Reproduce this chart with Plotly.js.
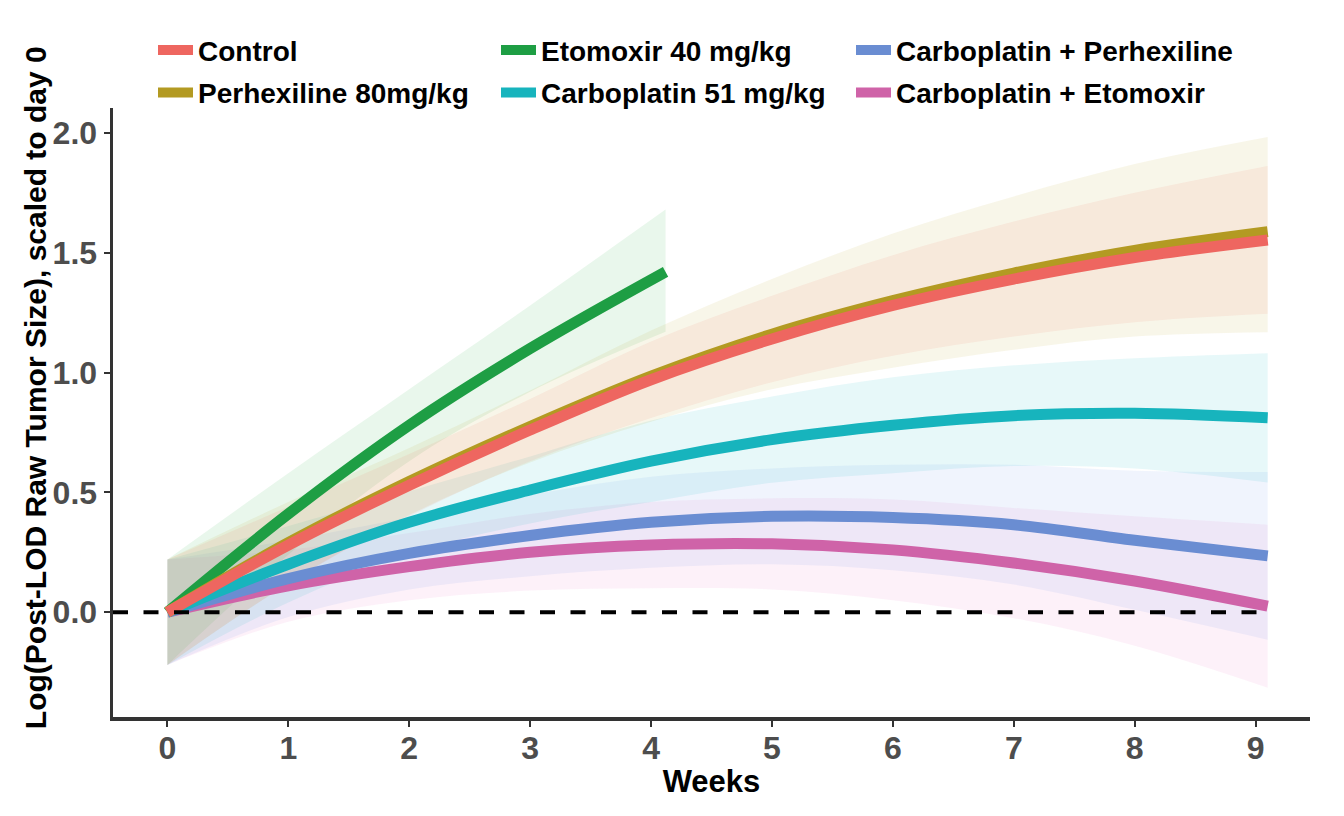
<!DOCTYPE html>
<html>
<head>
<meta charset="utf-8">
<script src="https://cdn.plot.ly/plotly-3.0.1.min.js"></script>
<style>html,body{margin:0;padding:0;background:#fff;}#chart{width:1344px;height:816px;}</style>
</head>
<body>
<div id="chart"></div>
<script>
// ---- Data (weeks vs. log tumour size, scaled to day 0) ----
const weeks = [0, 1, 2, 3, 4, 5, 6, 7, 8, 9.1];
const etoWeeks = [0, 1, 2, 3, 4.12];

const controlFit   = [0, 0.28, 0.53, 0.76, 0.97, 1.14, 1.28, 1.39, 1.48, 1.553];
const controlLow   = [-0.22, 0.12, 0.40, 0.63, 0.81, 0.96, 1.07, 1.15, 1.21, 1.245];
const controlHigh  = [0.22, 0.44, 0.66, 0.89, 1.13, 1.32, 1.49, 1.63, 1.75, 1.862];

const perhexFit    = [0, 0.29, 0.545, 0.775, 0.985, 1.16, 1.30, 1.415, 1.51, 1.588];
const perhexLow    = [-0.22, 0.12, 0.405, 0.625, 0.795, 0.93, 1.02, 1.095, 1.15, 1.168];
const perhexHigh   = [0.22, 0.46, 0.685, 0.925, 1.175, 1.39, 1.58, 1.735, 1.87, 1.983];

const etoFit       = [0, 0.41, 0.78, 1.10, 1.42];
const etoLow       = [-0.22, 0.24, 0.63, 0.92, 1.17];
const etoHigh      = [0.22, 0.58, 0.93, 1.28, 1.68];

const carboFit     = [0, 0.20, 0.375, 0.51, 0.63, 0.72, 0.78, 0.82, 0.83, 0.811];
const carboLow     = [-0.22, 0.04, 0.245, 0.37, 0.46, 0.54, 0.58, 0.61, 0.60, 0.541];
const carboHigh    = [0.22, 0.36, 0.505, 0.65, 0.80, 0.90, 0.98, 1.03, 1.06, 1.081];

const carboPerFit  = [0, 0.14, 0.245, 0.32, 0.375, 0.40, 0.395, 0.365, 0.30, 0.235];
const carboPerLow  = [-0.22, -0.02, 0.095, 0.15, 0.185, 0.20, 0.175, 0.115, 0.01, -0.115];
const carboPerHigh = [0.22, 0.30, 0.395, 0.49, 0.565, 0.60, 0.615, 0.615, 0.59, 0.585];

const carboEtoFit  = [0, 0.11, 0.19, 0.25, 0.28, 0.285, 0.26, 0.205, 0.13, 0.025];
const carboEtoLow  = [-0.22, -0.04, 0.05, 0.09, 0.10, 0.095, 0.05, -0.025, -0.14, -0.315];
const carboEtoHigh = [0.22, 0.26, 0.33, 0.41, 0.46, 0.475, 0.47, 0.435, 0.40, 0.365];

const refLineX = [-0.45, 9.1];
const refLineY = [0, 0];

const xTicks = [0, 1, 2, 3, 4, 5, 6, 7, 8, 9];
const yTicks = [0, 0.5, 1, 1.5, 2];
const yTickText = ['0.0', '0.5', '1.0', '1.5', '2.0'];

const xTitle = 'Weeks';
const yTitle = 'Log(Post-LOD Raw Tumor Size), scaled to day 0';

// ---- Styling ----
const groups = [
  {name: 'Carboplatin + Etomoxir',   x: weeks,    fit: carboEtoFit, lo: carboEtoLow, hi: carboEtoHigh, color: '#CF63A8', rgb: '240,120,200', leg: 'legend3', rank: 2},
  {name: 'Carboplatin + Perhexiline',x: weeks,    fit: carboPerFit, lo: carboPerLow, hi: carboPerHigh, color: '#6A8DD2', rgb: '110,150,240', leg: 'legend3', rank: 1},
  {name: 'Carboplatin 51 mg/kg',     x: weeks,    fit: carboFit,    lo: carboLow,    hi: carboHigh,    color: '#17B4BD', rgb: '20,185,200',  leg: 'legend2', rank: 2},
  {name: 'Etomoxir 40 mg/kg',        x: etoWeeks, fit: etoFit,      lo: etoLow,      hi: etoHigh,      color: '#1E9E44', rgb: '40,175,70',   leg: 'legend2', rank: 1},
  {name: 'Perhexiline 80mg/kg',      x: weeks,    fit: perhexFit,   lo: perhexLow,   hi: perhexHigh,   color: '#B39A22', rgb: '190,165,40',  leg: 'legend',  rank: 2},
  {name: 'Control',                  x: weeks,    fit: controlFit,  lo: controlLow,  hi: controlHigh,  color: '#EE6660', rgb: '245,120,100', leg: 'legend',  rank: 1}
];

const traces = [];
groups.forEach(g => {
  traces.push({x: g.x, y: g.lo, type: 'scatter', mode: 'lines', line: {width: 0, shape: 'spline', smoothing: 1},
    showlegend: false, hoverinfo: 'skip'});
  traces.push({x: g.x, y: g.hi, type: 'scatter', mode: 'lines', line: {width: 0, shape: 'spline', smoothing: 1},
    fill: 'tonexty', fillcolor: 'rgba(' + g.rgb + ',0.1)', showlegend: false, hoverinfo: 'skip'});
});
groups.forEach(g => {
  traces.push({x: g.x, y: g.fit, type: 'scatter', mode: 'lines', name: g.name,
    legend: g.leg, legendrank: g.rank, legendgroup: g.name,
    line: {color: g.color, width: 11, shape: 'spline', smoothing: 1}});
});
traces.push({x: refLineX, y: refLineY, type: 'scatter', mode: 'lines', showlegend: false, hoverinfo: 'skip',
  line: {color: '#000', width: 4, dash: '15px,15.5px'}});

const FAMILY = 'Liberation Sans, Arial, sans-serif';
const tickFont = {family: FAMILY, size: 32, color: '#4D4D4D', weight: 'bold'};
const titleFont = {family: FAMILY, size: 31, color: '#000', weight: 'bold'};

function legendAt(px) {
  return {
    orientation: 'v', xref: 'container', yref: 'container', x: px / 1344, y: 0.969,
    xanchor: 'left', yanchor: 'top', itemwidth: 35, traceorder: 'grouped', tracegroupgap: 3,
    font: {family: FAMILY, size: 28, color: '#000', weight: 'bold'},
    bgcolor: 'rgba(0,0,0,0)', borderwidth: 0
  };
}

const layout = {
  width: 1344, height: 816,
  paper_bgcolor: '#fff', plot_bgcolor: '#fff',
  margin: {l: 113, r: 34, t: 108, b: 99, autoexpand: false},
  showlegend: true,
  legend: legendAt(153),
  legend2: legendAt(496),
  legend3: legendAt(851),
  xaxis: {
    range: [-0.45, 9.45], tickvals: xTicks, ticks: 'outside', ticklen: 6, tickwidth: 2, tickcolor: '#333',
    ticklabelstandoff: -6,
    showline: true, linecolor: '#333', linewidth: 3.5, showgrid: false, zeroline: false,
    tickfont: tickFont,
    title: {text: xTitle, font: titleFont, standoff: 6}
  },
  yaxis: {
    range: [-0.4375, 2.104], tickvals: yTicks, ticktext: yTickText, ticks: 'outside', ticklen: 6, tickwidth: 2, tickcolor: '#333',
    showline: true, linecolor: '#333', linewidth: 3.5, showgrid: false, zeroline: false,
    tickfont: tickFont
  },
  annotations: [{
    text: yTitle, xref: 'paper', yref: 'paper', x: 0, y: 0.54, xanchor: 'center', yanchor: 'middle',
    xshift: -78, textangle: -90, showarrow: false,
    font: {family: FAMILY, size: 30, color: '#000', weight: 'bold'}
  }]
};

Plotly.newPlot('chart', traces, layout, {displayModeBar: false, staticPlot: true});
</script>
</body>
</html>
